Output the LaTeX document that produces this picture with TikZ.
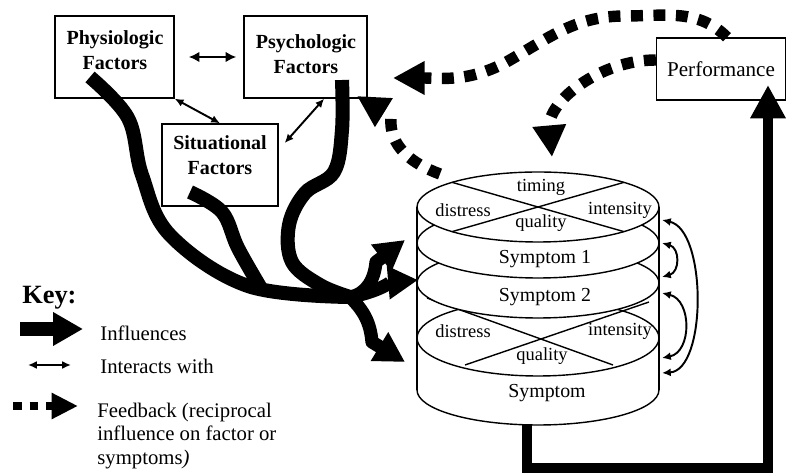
\documentclass[tikz,border=0pt]{standalone}
\usepackage{fontspec}
\setmainfont{Liberation Serif}
\usetikzlibrary{arrows.meta,shapes.geometric,calc}

\begin{document}
\begin{tikzpicture}[x=0.02cm, y=0.02cm,
        factor/.style={draw, thick, fill=white, minimum height=1.64cm},
        factorlbl/.style={font=\bfseries\fontsize{11.4}{14}\selectfont, align=center, inner sep=0pt},
        layer/.style={draw, thick, fill=white, ellipse, minimum width=4.84cm, minimum height=1.4cm, inner sep=0pt, outer sep=0pt},
        dimlbl/.style={font=\fontsize{10.5}{12}\selectfont, inner sep=0pt},
        symlbl/.style={font=\fontsize{11.3}{13}\selectfont, inner sep=0pt},
        keylbl/.style={font=\fontsize{11.8}{13.6}\selectfont, inner sep=0pt, anchor=west, align=left},
        strand/.style={line width=8pt},
        influence/.style={line width=7.5pt, line join=round, -{Triangle[length=17pt, width=18pt]}},
        interact/.style={line width=1.1pt, {Latex[length=5pt, width=4.5pt]}-{Latex[length=5pt, width=4.5pt]}},
        feedback/.style={line width=6.5pt, dash pattern=on 6.8pt off 6pt, -{Triangle[length=18pt, width=18pt]}}]
    \useasboundingbox (0,0) rectangle (787,-475);

    % factors
    \node[factor, minimum width=2.38cm] (phys) at (114.5,-57) {};
    \node[factor, minimum width=2.46cm] (psych) at (305.5,-57) {};
    \node[factor, minimum width=2.32cm] (situ) at (220,-165) {};
    \node[factorlbl] (physlbl) at (115,-50) {Physiologic\\Factors};
    \node[factorlbl] (psychlbl) at (306,-54) {Psychologic\\Factors};
    \node[factorlbl] (situlbl) at (220,-155) {Situational\\Factors};
    \node[draw, thick, minimum width=2.58cm, minimum height=1.24cm, font=\fontsize{12}{14}\selectfont] (perf) at (721,-69) {Performance};

    \draw[interact, line width=1.6pt, {Latex[length=6pt, width=6pt]}-{Latex[length=6pt, width=6pt]}, shorten <=8pt, shorten >=4pt] (phys) -- (psych);
    \draw[interact] (phys.south east) -- (situ.north);
    \draw[interact] ($(psych.south)!0.3!(psych.south east)$) -- ([shift={(6,22)}]situ.east);

    % symptom cylinder
    \draw[thick, fill=white] (417,-207) -- (417,-390) arc[start angle=180, end angle=360, x radius=2.42cm, y radius=0.7cm] -- (659,-207);
    \node[layer, minimum height=1.52cm] (base) at (538,-338) {};
    \draw[thick] (427,-298) -- (613,-365) (465,-365) -- (649,-302);
    \node[layer] (sym2) at (538,-283) {};
    \node[layer] (sym1) at (538,-243) {};
    \node[layer] (top) at (538,-207) {};
    \draw[thick] (top.164) -- (top.-16) (top.196) -- (top.16);
    \draw[thick] (417,-207) -- (417,-390) (659,-207) -- (659,-390);

    \node[dimlbl] (timing) at (541,-187) {timing};
    \node[dimlbl] (distress) at (463,-210) {distress};
    \node[dimlbl] (intensity) at (620,-210) {intensity};
    \node[dimlbl] (quality) at (541,-223) {quality};
    \node[symlbl] (s1) at (545,-259) {Symptom 1};
    \node[symlbl] (s2) at (545,-297) {Symptom 2};
    \node[dimlbl] (distress2) at (463,-331) {distress};
    \node[dimlbl] (intensity2) at (620,-331) {intensity};
    \node[dimlbl] (quality2) at (542,-356) {quality};
    \node[symlbl] (s0) at (547,-393) {Symptom};

    \coordinate (w1) at (662,-220);
    \coordinate (w2) at (662,-243);
    \coordinate (w3) at (662,-277);
    \coordinate (w4) at (662,-293);
    \coordinate (w5) at (662,-358);
    \coordinate (w6) at (662,-373);
    \draw[interact] (w1) .. controls +(45,-10) and +(45,3) .. (w6);
    \draw[interact] (w2) .. controls +(18,-5) and +(18,5) .. (w3);
    \draw[interact] (w4) .. controls +(30,-7) and +(30,6) .. (w5);

    % influences
    \coordinate (physout) at (90,-77);
    \coordinate (situout) at (190,-192);
    \coordinate (psychout) at (342,-80);
    \coordinate (hub) at (350,-297);
    \draw[strand] plot[smooth, tension=0.6] coordinates {(physout) (128,-118) (142,-175) (170,-235) (248,-286) (hub)};
    \draw[strand] plot[smooth, tension=0.6] coordinates {(situout) (222,-212) (238,-248) (262,-290)};
    \draw[strand] plot[smooth, tension=0.6] coordinates {(psychout) (342,-130) (334,-172) (305,-193) (289,-225) (292,-262) (320,-285) (hub)};
    \coordinate (tipA) at (405,-240);
    \coordinate (tipB) at (418,-280);
    \coordinate (tipC) at (405,-362);
    \draw[influence] (hub) to[out=10, in=-95] (376,-262) -- (tipA);
    \draw[influence] (hub) to[out=10, in=185] (tipB);
    \draw[influence] (hub) to[out=-45, in=95] (372,-342) -- (tipC);

    \coordinate (cylout) at (527,-424);
    \coordinate (perfin) at (768,-85);
    \draw[line width=6.2pt, -{Triangle[length=19pt, width=19pt]}] (cylout) -- ++(0,-44) -| (perfin);

    % feedback
    \coordinate (fbA) at (393,-78);
    \coordinate (fbB) at (552,-157);
    \coordinate (fbstart) at (440,-174);
    \coordinate (fbC) at (357,-96);
    \draw[feedback] ([shift={(6,0)}]perf.north) to[out=135, in=0] (625,-16) to[out=180, in=30] (510,-60) to[out=210, in=0] (fbA);
    \draw[feedback] ([shift={(0,9)}]perf.west) to[out=180, in=95] (fbB);
    \draw[feedback] (fbstart) to[out=160, in=-95] (391,-117) -- (fbC);

    % key
    \node[font=\bfseries\fontsize{15}{18}\selectfont, anchor=west, inner sep=0pt] (key) at (22,-298) {Key:};
    \coordinate (k1a) at (20,-329);
    \coordinate (k1b) at (83,-329);
    \draw[influence] (k1a) -- (k1b);
    \node[keylbl] (k1) at (100,-333) {Influences};
    \coordinate (k2a) at (28,-365);
    \coordinate (k2b) at (71,-365);
    \draw[interact] (k2a) -- (k2b);
    \node[keylbl] (k2) at (100,-366) {Interacts with};
    \coordinate (k3a) at (13,-406);
    \coordinate (k3b) at (78,-406);
    \draw[feedback, line width=5pt, dash pattern=on 5pt off 4.5pt, -{Triangle[length=15pt, width=14pt]}] (k3a) -- (k3b);
    \node[keylbl] (k3) at (97,-436) {Feedback (reciprocal\\influence on factor or\\symptoms\textit{)}};
\end{tikzpicture}
\end{document}
